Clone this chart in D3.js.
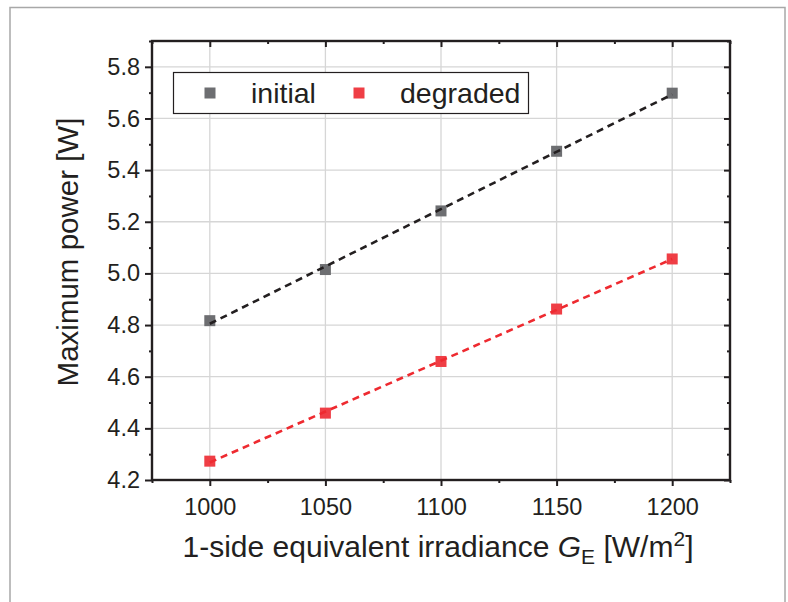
<!DOCTYPE html>
<html>
<head>
<meta charset="utf-8">
<script src="https://cdn.jsdelivr.net/npm/d3@7"></script>
<style>
  body { margin: 0; background: #fff; }
  svg { display: block; font-family: "Liberation Sans", Arial, sans-serif; }
</style>
</head>
<body>
<svg id="chart"></svg>
<script>
// Datos
const irradiance = [1000, 1050, 1100, 1150, 1200];
const initialPower = [4.817, 5.015, 5.242, 5.473, 5.698];
const degradedPower = [4.273, 4.459, 4.659, 4.862, 5.056];
const xTicks = [1000, 1050, 1100, 1150, 1200];
const yTicks = [4.2, 4.4, 4.6, 4.8, 5.0, 5.2, 5.4, 5.6, 5.8];
const seriesNames = ['initial', 'degraded'];

const W = 788, H = 602;
const m = { left: 152, top: 41, right: 730, bottom: 480 };

const svg = d3.select('#chart').attr('width', W).attr('height', H);

svg.append('rect').attr('width', W).attr('height', H).attr('fill', '#fff');

// marco exterior
svg.append('rect')
  .attr('x', 10).attr('y', 7.5)
  .attr('width', 775).attr('height', 640)
  .attr('fill', 'none')
  .attr('stroke', '#a8a8a8')
  .attr('stroke-width', 1.5);

const x = d3.scaleLinear().domain([975, 1225]).range([m.left, m.right]);
const y = d3.scaleLinear().domain([4.2, 5.9]).range([m.bottom, m.top]);

// rejilla
const grid = svg.append('g').attr('stroke', '#d6d6d6').attr('stroke-width', 1.3);
grid.selectAll('.gx').data(xTicks).enter().append('line')
  .attr('x1', d => x(d)).attr('x2', d => x(d))
  .attr('y1', m.top).attr('y2', m.bottom);
grid.selectAll('.gy').data(yTicks).enter().append('line')
  .attr('x1', m.left).attr('x2', m.right)
  .attr('y1', d => y(d)).attr('y2', d => y(d));

// ejes
const axisColor = '#231f20';
const xMinor = [975, 1025, 1075, 1125, 1175, 1225];
const yMinor = d3.range(4.3, 5.9, 0.2);

function styleAxis(g) {
  g.select('.domain').remove();
  g.selectAll('line').attr('stroke', axisColor).attr('stroke-width', 2);
  g.selectAll('text')
    .attr('fill', '#231f20')
    .style('font-size', '23.5px')
    .style('font-family', '"Liberation Sans", Arial, sans-serif');
}

svg.append('g').attr('transform', `translate(0,${m.bottom})`)
  .call(d3.axisBottom(x).tickValues(xTicks).tickSize(6).tickPadding(12).tickFormat(d3.format('d')))
  .call(styleAxis);
svg.append('g').attr('transform', `translate(0,${m.bottom})`)
  .call(d3.axisBottom(x).tickValues(xMinor).tickSize(3).tickFormat(''))
  .call(styleAxis);
svg.append('g').attr('transform', `translate(0,${m.top})`)
  .call(d3.axisBottom(x).tickValues(xTicks).tickSize(6).tickFormat(''))
  .call(styleAxis);
svg.append('g').attr('transform', `translate(0,${m.top})`)
  .call(d3.axisBottom(x).tickValues(xMinor).tickSize(3).tickFormat(''))
  .call(styleAxis);

svg.append('g').attr('transform', `translate(${m.left},0)`)
  .call(d3.axisLeft(y).tickValues(yTicks).tickSize(7).tickPadding(5).tickFormat(d3.format('.1f')))
  .call(styleAxis);
svg.append('g').attr('transform', `translate(${m.left},0)`)
  .call(d3.axisLeft(y).tickValues(yMinor).tickSize(3).tickFormat(''))
  .call(styleAxis);
svg.append('g').attr('transform', `translate(${m.right},0)`)
  .call(d3.axisLeft(y).tickValues(yTicks).tickSize(6).tickFormat(''))
  .call(styleAxis);
svg.append('g').attr('transform', `translate(${m.right},0)`)
  .call(d3.axisLeft(y).tickValues(yMinor).tickSize(3).tickFormat(''))
  .call(styleAxis);

// marco del área
svg.append('rect')
  .attr('x', m.left).attr('y', m.top)
  .attr('width', m.right - m.left).attr('height', m.bottom - m.top)
  .attr('fill', 'none')
  .attr('stroke', axisColor)
  .attr('stroke-width', 2.4);

// ajuste lineal
function fit(xs, ys) {
  const mx = d3.mean(xs), my = d3.mean(ys);
  const slope = d3.sum(xs, (v, i) => (v - mx) * (ys[i] - my)) / d3.sum(xs, v => (v - mx) ** 2);
  return v => my + slope * (v - mx);
}

const series = [
  { name: seriesNames[0], values: initialPower, fill: '#6d6e71', line: '#231f20' },
  { name: seriesNames[1], values: degradedPower, fill: '#ef3e45', line: '#ee2a30' }
];

const size = 11;
series.forEach(s => {
  svg.append('g').selectAll('rect')
    .data(irradiance)
    .enter().append('rect')
    .attr('x', (d) => x(d) - size / 2)
    .attr('y', (d, i) => y(s.values[i]) - size / 2)
    .attr('width', size).attr('height', size)
    .attr('fill', s.fill);

  const f = fit(irradiance, s.values);
  const ends = d3.extent(irradiance);
  svg.append('path')
    .datum(ends)
    .attr('d', d3.line().x(d => x(d)).y(d => y(f(d))))
    .attr('fill', 'none')
    .attr('stroke', s.line)
    .attr('stroke-width', 2.6)
    .attr('stroke-dasharray', '7,5');
});

// leyenda
const legend = svg.append('g');
legend.append('rect')
  .attr('x', 173.5).attr('y', 72.5)
  .attr('width', 355).attr('height', 41)
  .attr('fill', '#fff')
  .attr('stroke', axisColor)
  .attr('stroke-width', 1.2);
const legendPos = [{ mx: 210, tx: 251 }, { mx: 359, tx: 400 }];
series.forEach((s, i) => {
  legend.append('rect')
    .attr('x', legendPos[i].mx - size / 2).attr('y', 93 - size / 2)
    .attr('width', size).attr('height', size)
    .attr('fill', s.fill);
  legend.append('text')
    .attr('x', legendPos[i].tx).attr('y', 103)
    .attr('fill', '#231f20')
    .style('font-size', '28.5px')
    .text(s.name);
});

// títulos de los ejes
const xt = svg.append('text')
  .attr('x', 438).attr('y', 557)
  .attr('text-anchor', 'middle')
  .attr('fill', '#231f20')
  .style('font-size', '30px');
xt.append('tspan').text('1-side equivalent irradiance ');
xt.append('tspan').style('font-style', 'italic').text('G');
xt.append('tspan').attr('dy', 7).style('font-size', '21px').text('E');
xt.append('tspan').attr('dy', -7).text(' [W/m');
xt.append('tspan').attr('dy', -11).style('font-size', '21px').text('2');
xt.append('tspan').attr('dy', 11).text(']');

svg.append('text')
  .attr('transform', 'translate(78,252) rotate(-90)')
  .attr('text-anchor', 'middle')
  .attr('fill', '#231f20')
  .style('font-size', '29.5px')
  .text('Maximum power [W]');
</script>
</body>
</html>
